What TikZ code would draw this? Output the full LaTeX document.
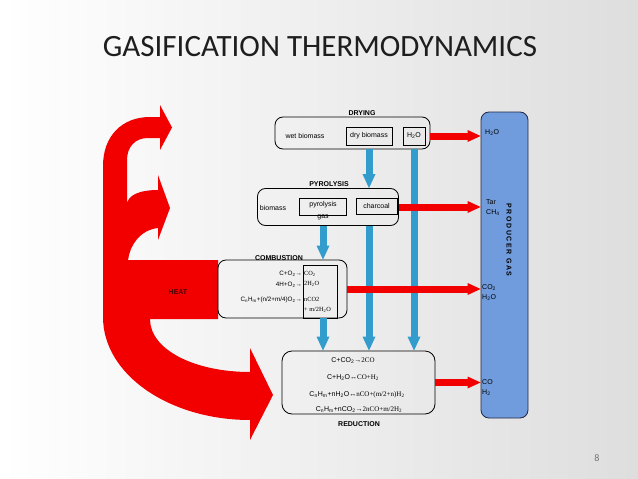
\documentclass[tikz,border=0pt]{standalone}
\usepackage{fontspec}
\setmainfont{Liberation Sans}
\newfontfamily\serifx{Liberation Serif}
\newfontfamily\titlefont{Carlito}
\usetikzlibrary{arrows.meta,calc}
\newcommand\sbs[1]{\textsubscript{#1}}
\newcommand\lsp{\hspace{1.6pt}}
\definecolor{heatred}{RGB}{242,0,0}
\definecolor{flowblue}{RGB}{50,157,205}
\definecolor{gasblue}{RGB}{112,155,220}
\definecolor{gasedge}{RGB}{30,40,70}
\definecolor{titlegray}{RGB}{30,30,30}
\definecolor{heattext}{RGB}{70,0,0}
\begin{document}
\begin{tikzpicture}[x=1pt,y=-1pt,
  stagebox/.style={draw=black,line width=0.8pt,rounded corners=8pt,minimum width=#1,inner sep=0pt},
  itembox/.style={draw=black,line width=0.7pt,inner sep=0pt,font=\fontsize{7}{8}\selectfont},
  lbl/.style={font=\fontsize{7}{8}\selectfont,inner sep=0pt},
  blbl/.style={font=\fontsize{7}{8}\selectfont\bfseries,inner sep=0pt},
  eq/.style={font=\fontsize{6.3}{7}\selectfont,inner sep=0pt},
  seq/.style={font=\serifx\fontsize{6.3}{7}\selectfont,inner sep=0pt,anchor=west},
  req/.style={font=\fontsize{7}{8}\selectfont,inner sep=0pt},
  bluearrow/.style={draw=flowblue,line width=7pt,-{Triangle[width=13pt,length=14pt,line width=0pt]}},
  redarrow/.style={draw=heatred,line width=7pt,-{Triangle[width=12pt,length=13pt,line width=0pt]}}]
\useasboundingbox (0,0) rectangle (638,479);
\shade[left color=white,right color=black!13] (0,0) rectangle (638,479);
\node[font=\titlefont\fontsize{31}{31}\selectfont,text=titlegray,inner sep=0pt] (title) at (320,47) {GASIFICATION THERMODYNAMICS};
\node[font=\titlefont\fontsize{10}{10}\selectfont,text=black!55,inner sep=0pt] (page) at (597,458) {8};

% heat shape
\fill[heatred] (103,317) -- (103,166)
  .. controls (103,136) and (122,117) .. (150,117)
  -- (160,117) -- (160,105) -- (172,127.5) -- (160,150) -- (160,138)
  -- (148,138) .. controls (135,138) and (127,147) .. (127,160)
  -- (127,205) .. controls (127,195) and (140,190) .. (158,190)
  -- (158,175) -- (170,208) -- (158,240) -- (158,228)
  .. controls (140,230) and (130,245) .. (128,260)
  -- (218,260) -- (218,319) -- (150,319)
  .. controls (150,350) and (195,372) .. (250,372)
  -- (250,348) -- (273,395) -- (250,440) -- (250,420)
  .. controls (170,420) and (103,375) .. (103,317) -- cycle;
\node[blbl,text=heattext] (heat) at (178,292) {HEAT};

% producer gas
\node[draw=gasedge,fill=gasblue,line width=0.8pt,rounded corners=8pt,minimum width=47pt,minimum height=306pt,inner sep=0pt] (prod) at (504.5,265) {};
\node[blbl,rotate=-90] (prodlbl) at (509,240) {P\lsp R\lsp O\lsp D\lsp U\lsp C\lsp E\lsp R\lsp{} G\lsp A\lsp S};

% drying
\node[stagebox=155pt,minimum height=32pt] (drying) at (352.5,133) {};
\node[blbl,anchor=south] (dryinglbl) at (362,116) {DRYING};
\node[lbl] (wet) at (305,136) {wet biomass};
\node[itembox,minimum width=46pt,minimum height=18pt] (dry) at (369,136) {dry biomass};
\node[itembox,minimum width=22pt,minimum height=18pt] (h2o) at (414,136) {H\sbs2O};

% pyrolysis
\node[stagebox=141pt,minimum height=37pt] (pyro) at (328,207) {};
\node[blbl,anchor=south] (pyrolbl) at (329,186.5) {PYROLYSIS};
\node[lbl] (biomass) at (273,208) {biomass};
\node[itembox,minimum width=47pt,minimum height=17pt] (pgas) at (323,207) {};
\node[lbl] (pgastxt) at (323,205) {pyrolysis};
\node[lbl] (gastxt) at (323,217.5) {gas};
\node[itembox,minimum width=41pt,minimum height=16pt] (char) at (376.5,206) {charcoal};

% combustion
\node[stagebox=129pt,minimum height=58pt] (comb) at (282.5,289) {};
\node[blbl,anchor=south] (comblbl) at (279,261) {COMBUSTION};
\node[itembox,minimum width=34pt,minimum height=53pt] (combin) at (320,291.5) {};
\node[eq,anchor=east] (c1) at (302,274) {C+O\sbs2→};
\node[eq,anchor=east] (c2) at (302,285) {4H+O\sbs2→};
\node[eq,anchor=east] (c3) at (302,300) {C\sbs nH\sbs m+(n/2+m/4)O\sbs2→};
\node[seq] (p1) at (304,274) {CO\sbs2};
\node[seq] (p2) at (304,284) {2H\sbs2O};
\node[seq] (p3) at (304,299) {nCO2};
\node[seq] (p4) at (304,310) {+ m/2H\sbs2O};

% reduction
\node[stagebox=153pt,minimum height=63pt,rounded corners=10pt] (red) at (358.5,382.5) {};
\node[blbl] (redlbl) at (359,424) {REDUCTION};
\node[req] (r1) at (353,361) {C+CO\sbs2→{\serifx 2CO}};
\node[req] (r2) at (353,378) {C+H\sbs2O↔{\serifx CO+H\sbs2}};
\node[req] (r3) at (357,394.5) {C\sbs nH\sbs m+nH\sbs2O↔{\serifx nCO+(m/2+n)H\sbs2}};
\node[req] (r4) at (359,410) {C\sbs nH\sbs m+nCO\sbs2→{\serifx 2nCO+m/2H\sbs2}};

% gas labels
\node[lbl,anchor=west] (g1) at (485,133) {H\sbs2O};
\node[lbl,anchor=west] (g2) at (486,202) {Tar};
\node[lbl,anchor=west] (g3) at (486,213) {CH\sbs4};
\node[lbl,anchor=west] (g4) at (482,288) {CO\sbs2};
\node[lbl,anchor=west] (g5) at (482,298) {H\sbs2O};
\node[lbl,anchor=west] (g6) at (482,382) {CO};
\node[lbl,anchor=west] (g7) at (482,393) {H\sbs2};

% blue flows
\draw[bluearrow] (dry.south |- drying.south) -- (dry.south |- pyro.north);
\draw[bluearrow] (h2o.south |- drying.south) -- (h2o.south |- red.north);
\draw[bluearrow] (pgas.south |- pyro.south) -- (pgas.south |- comb.north);
\draw[bluearrow] (dry.south |- pyro.south) -- (dry.south |- red.north);
\draw[bluearrow] (pgas.south |- comb.south) -- (pgas.south |- red.north);

% red flows to producer gas
\draw[redarrow] (drying.east |- h2o.center) -- (prod.west |- h2o.center);
\draw[redarrow] (pyro.east) -- (prod.west |- pyro.east);
\draw[redarrow] (comb.east) -- (prod.west |- comb.east);
\draw[redarrow] (red.east) -- (prod.west |- red.east);
\end{tikzpicture}
\end{document}
